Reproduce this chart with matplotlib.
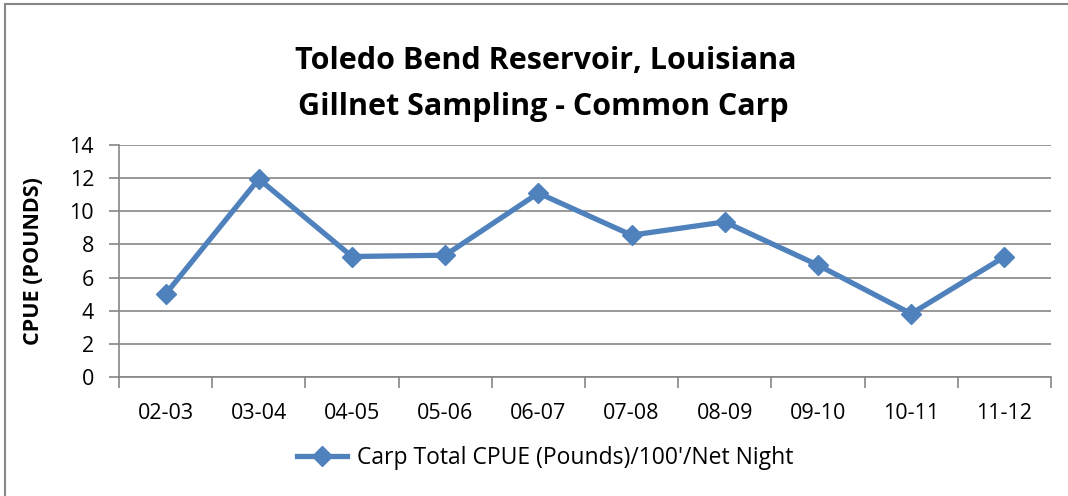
import matplotlib.pyplot as plt
from matplotlib.patches import Rectangle

seasons = ['02-03', '03-04', '04-05', '05-06', '06-07', '07-08', '08-09', '09-10', '10-11', '11-12']
cpue = [5.0, 11.95, 7.27, 7.35, 11.1, 8.56, 9.36, 6.75, 3.82, 7.25]
series_name = "Carp Total CPUE (Pounds)/100'/Net Night"
title_lines = ['Toledo Bend Reservoir, Louisiana', 'Gillnet Sampling - Common Carp']

plt.rcParams['font.family'] = ['Open Sans', 'DejaVu Sans']
W, H = 1068, 496
fig = plt.figure(figsize=(W / 100, H / 100), dpi=100)

# outer chart border (only left/top visible, the rest is cropped)
fig.patches.append(Rectangle((5 / W, -0.1), 1.2, 1 - 4 / H + 0.1, transform=fig.transFigure,
                             fill=False, edgecolor='#878787', linewidth=1.5))

ax = fig.add_axes([119 / W, 1 - 377 / H, (1051 - 119) / W, (377 - 145) / H])
x = list(range(len(seasons)))
line, = ax.plot(x, cpue, color='#4F81BD', linewidth=3.8, marker='D', markersize=10,
                markeredgecolor='#4F81BD', label=series_name, zorder=3)

ax.set_xlim(-0.5, len(seasons) - 0.5)
ax.set_ylim(0, 14)
ax.set_yticks(range(0, 15, 2))
ax.set_xticks(x)
ax.set_xticklabels(seasons)
ax.set_xticks([i - 0.5 for i in range(len(seasons) + 1)], minor=True)
ax.tick_params(axis='x', which='major', length=0, pad=19, labelsize=15.5)
ax.tick_params(axis='x', which='minor', length=8, color='#868686', width=1.2)
ax.tick_params(axis='y', length=7, color='#868686', width=1.2, labelsize=15.5, pad=11)
ax.grid(axis='y', color='#868686', linewidth=1.2)
ax.set_axisbelow(True)
for s in ['top', 'right']:
    ax.spines[s].set_visible(False)
for s in ['left', 'bottom']:
    ax.spines[s].set_color('#868686')
    ax.spines[s].set_linewidth(1.2)

ax.set_ylabel('CPUE (POUNDS)', fontsize=15.5, fontweight='bold', labelpad=18)

fig.text(546 / W, 1 - 61 / H, title_lines[0], ha='center', va='center', fontsize=22, fontweight='bold')
fig.text(543 / W, 1 - 107 / H, title_lines[1], ha='center', va='center', fontsize=22, fontweight='bold')

fig.legend(handles=[line], loc='center', bbox_to_anchor=(545 / W, 1 - 458 / H), frameon=False,
           fontsize=16.5, handlelength=2.2, handletextpad=0.4)

fig.savefig('out.png', dpi=100)
